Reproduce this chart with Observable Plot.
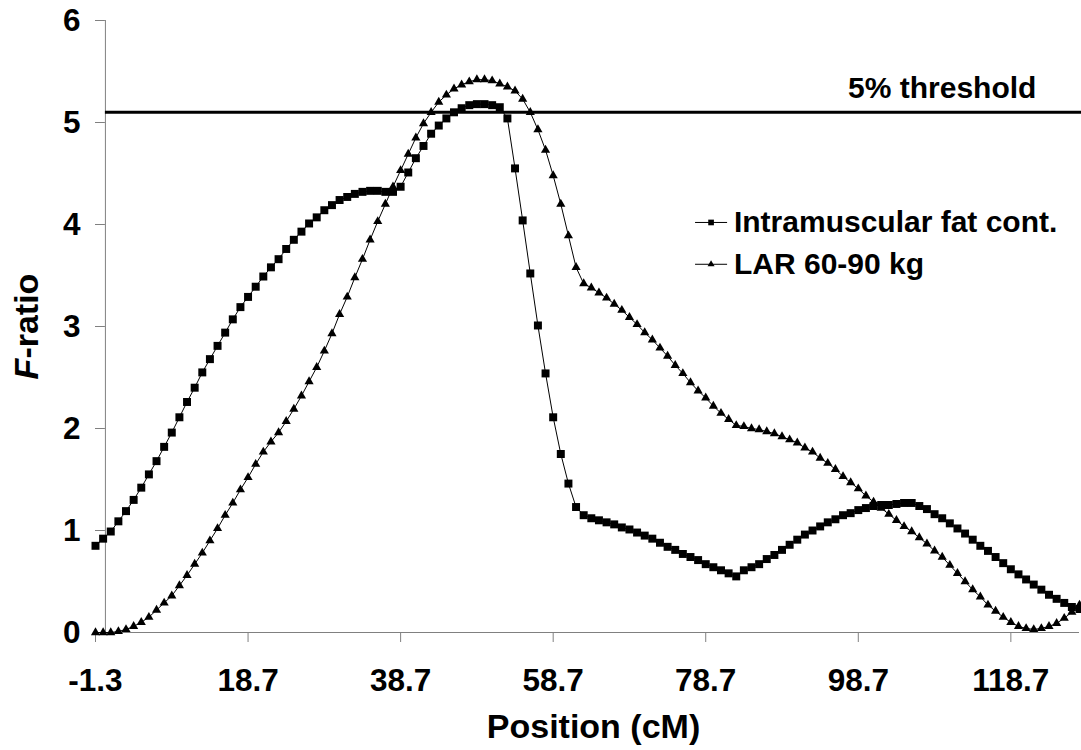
<!DOCTYPE html>
<html><head><meta charset="utf-8">
<script src="https://cdn.jsdelivr.net/npm/d3@7"></script>
<script src="https://cdn.jsdelivr.net/npm/@observablehq/plot@0.6"></script>
<style>
body{margin:0;background:#fff;}
#chart svg{font-family:"Liberation Sans",Arial,sans-serif;}
</style>
</head><body><div id="chart"></div>
<script>
// Positions (cM)
const positions = [-1.3,-0.3,0.7,1.7,2.7,3.7,4.7,5.7,6.7,7.7,8.7,9.7,10.7,11.7,12.7,13.7,14.7,15.7,16.7,17.7,18.7,19.7,20.7,21.7,22.7,23.7,24.7,25.7,26.7,27.7,28.7,29.7,30.7,31.7,32.7,33.7,34.7,35.7,36.7,37.7,38.7,39.7,40.7,41.7,42.7,43.7,44.7,45.7,46.7,47.7,48.7,49.7,50.7,51.7,52.7,53.7,54.7,55.7,56.7,57.7,58.7,59.7,60.7,61.7,62.7,63.7,64.7,65.7,66.7,67.7,68.7,69.7,70.7,71.7,72.7,73.7,74.7,75.7,76.7,77.7,78.7,79.7,80.7,81.7,82.7,83.7,84.7,85.7,86.7,87.7,88.7,89.7,90.7,91.7,92.7,93.7,94.7,95.7,96.7,97.7,98.7,99.7,100.7,101.7,102.7,103.7,104.7,105.7,106.7,107.7,108.7,109.7,110.7,111.7,112.7,113.7,114.7,115.7,116.7,117.7,118.7,119.7,120.7,121.7,122.7,123.7,124.7,125.7,126.7,127.7];

// Intramuscular fat content F-ratio
const fatValues = [0.85,0.92,0.99,1.09,1.19,1.30,1.42,1.55,1.68,1.82,1.96,2.11,
 2.26,2.40,2.55,2.68,2.81,2.94,3.07,3.19,3.29,3.39,
 3.49,3.58,3.66,3.76,3.85,3.93,4.01,4.07,4.14,4.19,
 4.24,4.27,4.30,4.32,4.33,4.33,4.32,4.32,4.37,4.51,
 4.65,4.77,4.89,4.97,5.04,5.10,5.14,5.17,5.18,5.18,
 5.17,5.15,5.04,4.55,4.04,3.52,3.01,2.54,2.11,1.75,
 1.46,1.23,1.15,1.12,1.10,1.08,1.06,1.03,1.01,0.98,
 0.95,0.92,0.88,0.84,0.81,0.77,0.74,0.71,0.67,0.64,
 0.61,0.58,0.55,0.61,0.64,0.67,0.72,0.76,0.81,0.86,
 0.91,0.96,1.00,1.04,1.08,1.11,1.15,1.17,1.20,1.22,
 1.24,1.25,1.25,1.26,1.27,1.27,1.24,1.21,1.16,1.12,
 1.07,1.02,0.97,0.91,0.85,0.80,0.74,0.68,0.62,0.57,
 0.52,0.47,0.42,0.37,0.33,0.29,0.25,0.23];

// LAR 60-90 kg F-ratio
const larValues = [0.00,0.00,0.00,0.01,0.03,0.06,0.10,0.15,0.22,0.29,0.36,0.46,
 0.56,0.67,0.78,0.90,1.02,1.15,1.27,1.40,1.52,1.65,
 1.77,1.87,1.96,2.07,2.19,2.32,2.46,2.60,2.76,2.93,
 3.12,3.29,3.48,3.66,3.85,4.03,4.20,4.37,4.53,4.69,
 4.85,4.99,5.10,5.20,5.27,5.33,5.37,5.40,5.42,5.42,
 5.41,5.38,5.35,5.31,5.23,5.10,4.93,4.73,4.48,4.20,
 3.89,3.58,3.42,3.38,3.33,3.28,3.22,3.16,3.09,3.02,
 2.94,2.87,2.79,2.71,2.62,2.54,2.45,2.37,2.30,2.22,
 2.15,2.09,2.03,2.02,2.00,1.99,1.97,1.95,1.92,1.89,
 1.86,1.81,1.77,1.71,1.66,1.60,1.53,1.47,1.41,1.34,
 1.28,1.22,1.16,1.10,1.04,0.99,0.93,0.87,0.80,0.74,
 0.66,0.58,0.50,0.42,0.35,0.27,0.21,0.15,0.10,0.06,
 0.04,0.03,0.04,0.06,0.09,0.14,0.20,0.27];

const seriesNames = ["Intramuscular fat cont.", "LAR 60-90 kg"];
const threshold = 5.1;
const thresholdLabel = "5% threshold";
const xTicks = [-1.3, 18.7, 38.7, 58.7, 78.7, 98.7, 118.7];
const yTicks = [0, 1, 2, 3, 4, 5, 6];
const xTitle = "Position (cM)";
const yTitle = "F-ratio";

const fatRows = positions.map((x, i) => ({x, y: fatValues[i]}));
const larRows = positions.map((x, i) => ({x, y: larValues[i]}));

const tickFS = 31.5;
const titleFS = 34;
const textFS = 30;
const axisGray = "#808080";

// legend placement (data coordinates inside the plot)
const legX1 = 77.3, legX2 = 81.5, legXText = 82.4;
const legY = [4.02, 3.61];

const chart = Plot.plot({
  width: 1081,
  height: 750,
  marginLeft: 95,
  marginRight: 2,
  marginTop: 20,
  marginBottom: 118,
  x: {domain: [-1.3, 127.7]},
  y: {domain: [0, 6]},
  style: {fontFamily: '"Liberation Sans", Arial, sans-serif', fontWeight: "bold", color: "black", background: "white", overflow: "visible"},
  marks: [
    // x axis
    Plot.ruleY([0], {x1: -1.3, x2: 127.7, stroke: axisGray, strokeWidth: 1}),
    Plot.axisX({ticks: xTicks, tickSize: 10, tickPadding: 26, tickFormat: d => String(d), fontSize: tickFS, stroke: axisGray, color: "black", label: null}),
    // y axis at x = 0
    Plot.ruleX([0], {y1: 0, y2: 6, stroke: axisGray, strokeWidth: 1}),
    Plot.ruleY(yTicks, {y: d => d, x1: -1.3, x2: 0, stroke: axisGray, strokeWidth: 1}),
    Plot.axisY({ticks: yTicks, tickSize: 0, tickPadding: 15, tickFormat: d => String(d), fontSize: tickFS, label: null}),
    // titles
    Plot.text([xTitle], {text: d => d, frameAnchor: "bottom", dy: 95, dx: 6, fontSize: titleFS, lineAnchor: "middle", textAnchor: "middle"}),
    Plot.text([yTitle], {text: d => d, frameAnchor: "left", dx: -68, dy: 0, rotate: -90, fontSize: titleFS, lineAnchor: "middle", textAnchor: "middle"}),
    // threshold
    Plot.ruleY([threshold], {x1: 0, x2: 128, stroke: "black", strokeWidth: 3}),
    Plot.text([thresholdLabel], {text: d => d, x: 109.7, y: threshold, dy: -14, lineAnchor: "bottom", fontSize: textFS}),
    // series
    Plot.line(fatRows, {x: "x", y: "y", stroke: "black", strokeWidth: 1}),
    Plot.dot(fatRows, {x: "x", y: "y", symbol: "square", fill: "black", r: 4.5}),
    Plot.line(larRows, {x: "x", y: "y", stroke: "black", strokeWidth: 1}),
    Plot.dot(larRows, {x: "x", y: "y", symbol: "triangle", fill: "black", r: 3.4}),
    // legend
    Plot.link(seriesNames, {x1: legX1, x2: legX2, y1: (d, i) => legY[i], y2: (d, i) => legY[i], stroke: "black", strokeWidth: 1}),
    Plot.dot([seriesNames[0]], {x: (legX1 + legX2) / 2, y: legY[0], symbol: "square", fill: "black", r: 3.2}),
    Plot.dot([seriesNames[1]], {x: (legX1 + legX2) / 2, y: legY[1], symbol: "triangle", fill: "black", r: 2.6}),
    Plot.text(seriesNames, {text: d => d, x: legXText, y: (d, i) => legY[i], textAnchor: "start", lineAnchor: "middle", fontSize: textFS})
  ]
});

document.getElementById("chart").appendChild(chart);

// italic F in the y-axis title
d3.select(chart).selectAll("text").filter(function() { return this.textContent === yTitle; }).each(function() {
  const t = d3.select(this);
  t.text(null);
  t.append("tspan").attr("font-style", "italic").text("F");
  t.append("tspan").text("-ratio");
});
</script>
</body></html>
